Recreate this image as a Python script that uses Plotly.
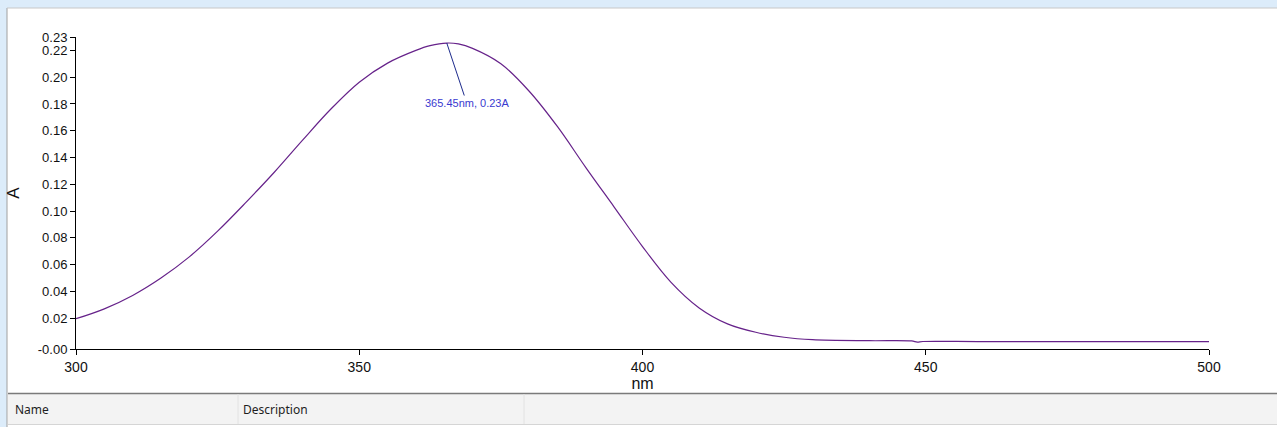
import plotly.graph_objects as go

# ---- data ----
wavelength_nm = [300, 305, 310, 315, 320, 325, 330, 335, 340, 345,
                 350, 355, 360, 362.5, 365.45, 367.5, 370, 375, 380, 385,
                 390, 395, 400, 405, 410, 415, 420, 425, 430, 440,
                 447.5, 448.5, 449.5, 460, 480, 500]
absorbance = [0.0196, 0.0270, 0.0370, 0.0500, 0.0658, 0.0850, 0.1065, 0.1290, 0.1530, 0.1762,
              0.1962, 0.2105, 0.2200, 0.2235, 0.2255, 0.2248, 0.2215, 0.2100, 0.1895, 0.1630,
              0.1325, 0.1030, 0.0735, 0.0470, 0.0277, 0.0158, 0.0095, 0.0058, 0.0040, 0.0032,
              0.0030, 0.0022, 0.0026, 0.0025, 0.0025, 0.0025]

x_ticks = [300, 350, 400, 450, 500]
y_tickvals = [-0.003, 0.02, 0.04, 0.06, 0.08, 0.10, 0.12, 0.14, 0.16, 0.18, 0.20, 0.22, 0.23]
y_ticktext = ["-0.00", "0.02", "0.04", "0.06", "0.08", "0.10", "0.12", "0.14", "0.16",
              "0.18", "0.20", "0.22", "0.23"]
peak_nm = 365.45
peak_a = 0.2255
peak_label = "365.45nm, 0.23A"
table_headers = ["Name", "Description"]

# ---- layout geometry (pixels) ----
W, H = 1277, 427
L, R, T, B = 76, 68, 37, 78
PW, PH = W - L - R, H - T - B

def px(xp):
    return (xp - L) / PW

def py(yp):
    return (H - B - yp) / PH

FONT = "Liberation Sans, Arial, sans-serif"
UI_FONT = "Noto Sans, DejaVu Sans, sans-serif"

fig = go.Figure()
fig.add_trace(go.Scatter(
    x=wavelength_nm, y=absorbance, mode="lines",
    line=dict(color="#66228a", width=1.2, shape="spline", smoothing=1.0),
    hoverinfo="skip", showlegend=False,
))

shapes = []
# light-blue watermark edges
shapes.append(dict(type="rect", xref="paper", yref="paper", x0=px(0), x1=px(W), y0=py(0), y1=py(8),
                   fillcolor="#dcecfa", line=dict(width=0), layer="below"))
shapes.append(dict(type="rect", xref="paper", yref="paper", x0=px(0), x1=px(7), y0=py(0), y1=py(H),
                   fillcolor="#dcecfa", line=dict(width=0), layer="below"))
# panel border lines
shapes.append(dict(type="line", xref="paper", yref="paper", x0=px(7), x1=px(7), y0=py(8), y1=py(H),
                   line=dict(color="#a0a0a0", width=1)))
shapes.append(dict(type="line", xref="paper", yref="paper", x0=px(7), x1=px(W), y0=py(8), y1=py(8),
                   line=dict(color="#c8c8c8", width=1)))
# table header
shapes.append(dict(type="rect", xref="paper", yref="paper", x0=px(8), x1=px(W), y0=py(394), y1=py(424),
                   fillcolor="#f3f3f3", line=dict(width=0), layer="below"))
shapes.append(dict(type="line", xref="paper", yref="paper", x0=px(8), x1=px(W), y0=py(393.5), y1=py(393.5),
                   line=dict(color="#7a7a7a", width=1.5)))
shapes.append(dict(type="line", xref="paper", yref="paper", x0=px(8), x1=px(W), y0=py(424.5), y1=py(424.5),
                   line=dict(color="#d5d5d5", width=1)))
for sx in (238, 524):
    shapes.append(dict(type="line", xref="paper", yref="paper", x0=px(sx), x1=px(sx), y0=py(394), y1=py(424),
                       line=dict(color="#e2e2e2", width=1)))

annotations = [
    dict(x=peak_nm, y=peak_a, xref="x", yref="y", text=peak_label, showarrow=True,
         arrowhead=0, arrowwidth=1, arrowcolor="#1c2a8c", ax=20, ay=60,
         font=dict(family="Liberation Sans, Arial, sans-serif", size=11, color="#3a3ad0")),
    dict(x=px(13), y=py(409), xref="paper", yref="paper", text=table_headers[0], showarrow=False,
         xanchor="left", yanchor="middle", font=dict(family=UI_FONT, size=12, color="#1e1e1e")),
    dict(x=px(241), y=py(409), xref="paper", yref="paper", text=table_headers[1], showarrow=False,
         xanchor="left", yanchor="middle", font=dict(family=UI_FONT, size=12, color="#1e1e1e")),
]

fig.update_layout(
    width=W, height=H,
    margin=dict(l=L, r=R, t=T, b=B, pad=0, autoexpand=False),
    paper_bgcolor="white", plot_bgcolor="white",
    shapes=shapes, annotations=annotations,
    font=dict(family=FONT, size=14, color="#111111"),
)
fig.update_xaxes(
    range=[300, 500], tickvals=x_ticks, ticktext=[str(v) for v in x_ticks],
    showgrid=False, zeroline=False, showline=True, linecolor="black", linewidth=1,
    ticks="outside", ticklen=5, tickcolor="black", automargin=False,
    title=dict(text="nm", font=dict(family=FONT, size=16), standoff=0),
    tickfont=dict(family=FONT, size=14),
)
fig.update_yaxes(
    range=[-0.003, 0.23], tickvals=y_tickvals, ticktext=y_ticktext,
    showgrid=False, zeroline=False, showline=True, linecolor="black", linewidth=1,
    ticks="outside", ticklen=5, tickcolor="black", automargin=False,
    title=dict(text="A", font=dict(family=FONT, size=17), standoff=13),
    tickfont=dict(family=FONT, size=13),
)

fig.write_html("out.html")
